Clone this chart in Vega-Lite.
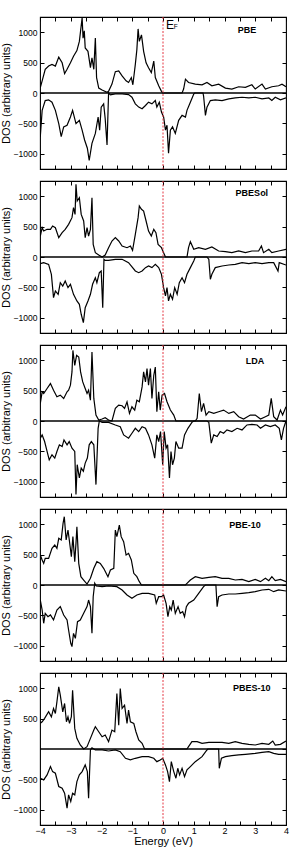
{
"$schema": "https://vega.github.io/schema/vega-lite/v6.json",
"padding": {"left": 0, "top": 15, "right": 5, "bottom": 2},
"spacing": 8,
"config": {
 "view": {"stroke": "black", "strokeWidth": 1.1},
 "font": "Liberation Sans",
 "axis": {"domain": false, "grid": false, "tickColor": "black", "tickSize": -4, "tickWidth": 1, "labelFont": "Liberation Sans", "labelFontSize": 8.5, "labelColor": "black", "labelPadding": 7, "labelFlush": false, "labelOverlap": false, "labelBound": false, "titleFont": "Liberation Sans", "titleFontSize": 11, "titleFontWeight": "normal", "titleColor": "black", "titlePadding": 1.5}
},
"vconcat": [
{
 "width": 246, "height": 152,
 "layer": [
  {"data": {"values": [
{"s":"u","e":-3.99,"d":90},{"s":"u","e":-3.93,"d":200},{"s":"u","e":-3.83,"d":390},{"s":"u","e":-3.72,"d":443},{"s":"u","e":-3.61,"d":470},{"s":"u","e":-3.5,"d":443},{"s":"u","e":-3.39,"d":590},{"s":"u","e":-3.28,"d":497},{"s":"u","e":-3.2,"d":320},{"s":"u","e":-3.12,"d":390},{"s":"u","e":-3.01,"d":497},{"s":"u","e":-2.91,"d":605},{"s":"u","e":-2.8,"d":697},{"s":"u","e":-2.72,"d":849},{"s":"u","e":-2.68,"d":1022},{"s":"u","e":-2.63,"d":1238},{"s":"u","e":-2.6,"d":903},{"s":"u","e":-2.56,"d":1022},{"s":"u","e":-2.53,"d":740},{"s":"u","e":-2.44,"d":686},{"s":"u","e":-2.36,"d":416},{"s":"u","e":-2.31,"d":578},{"s":"u","e":-2.25,"d":390},{"s":"u","e":-2.2,"d":903},{"s":"u","e":-2.16,"d":254},{"s":"u","e":-2.09,"d":81},{"s":"u","e":-1.98,"d":49},{"s":"u","e":-1.82,"d":11},{"s":"u","e":-1.77,"d":27},{"s":"u","e":-1.66,"d":146},{"s":"u","e":-1.55,"d":351},{"s":"u","e":-1.44,"d":362},{"s":"u","e":-1.33,"d":281},{"s":"u","e":-1.2,"d":200},{"s":"u","e":-1.12,"d":173},{"s":"u","e":-1.03,"d":254},{"s":"u","e":-0.98,"d":135},{"s":"u","e":-0.9,"d":470},{"s":"u","e":-0.85,"d":714},{"s":"u","e":-0.81,"d":1054},{"s":"u","e":-0.77,"d":849},{"s":"u","e":-0.7,"d":957},{"s":"u","e":-0.63,"d":686},{"s":"u","e":-0.55,"d":497},{"s":"u","e":-0.47,"d":416},{"s":"u","e":-0.38,"d":335},{"s":"u","e":-0.3,"d":524},{"s":"u","e":-0.25,"d":254},{"s":"u","e":-0.14,"d":119},{"s":"u","e":-0.05,"d":27},{"s":"u","e":-0.01,"d":0},{"s":"u","e":0.62,"d":0},{"s":"u","e":0.67,"d":65},{"s":"u","e":0.73,"d":227},{"s":"u","e":0.83,"d":173},{"s":"u","e":1.05,"d":146},{"s":"u","e":1.27,"d":135},{"s":"u","e":1.43,"d":173},{"s":"u","e":1.59,"d":119},{"s":"u","e":1.81,"d":146},{"s":"u","e":2.03,"d":81},{"s":"u","e":2.24,"d":65},{"s":"u","e":2.46,"d":103},{"s":"u","e":2.68,"d":92},{"s":"u","e":2.89,"d":135},{"s":"u","e":3.0,"d":65},{"s":"u","e":3.22,"d":146},{"s":"u","e":3.33,"d":65},{"s":"u","e":3.54,"d":103},{"s":"u","e":3.76,"d":119},{"s":"u","e":3.87,"d":146},{"s":"u","e":4.0,"d":103},
{"s":"d","e":-3.99,"d":-719},{"s":"d","e":-3.93,"d":-286},{"s":"d","e":-3.83,"d":-124},{"s":"d","e":-3.72,"d":-113},{"s":"d","e":-3.61,"d":-151},{"s":"d","e":-3.5,"d":-286},{"s":"d","e":-3.39,"d":-503},{"s":"d","e":-3.31,"d":-719},{"s":"d","e":-3.23,"d":-557},{"s":"d","e":-3.12,"d":-530},{"s":"d","e":-3.01,"d":-395},{"s":"d","e":-2.94,"d":-286},{"s":"d","e":-2.83,"d":-503},{"s":"d","e":-2.72,"d":-449},{"s":"d","e":-2.63,"d":-611},{"s":"d","e":-2.55,"d":-773},{"s":"d","e":-2.46,"d":-908},{"s":"d","e":-2.4,"d":-1108},{"s":"d","e":-2.31,"d":-827},{"s":"d","e":-2.2,"d":-665},{"s":"d","e":-2.11,"d":-395},{"s":"d","e":-2.06,"d":-611},{"s":"d","e":-2.01,"d":-232},{"s":"d","e":-1.93,"d":-178},{"s":"d","e":-1.88,"d":-422},{"s":"d","e":-1.82,"d":-854},{"s":"d","e":-1.77,"d":0},{"s":"d","e":-1.71,"d":-32},{"s":"d","e":-1.55,"d":-16},{"s":"d","e":-1.33,"d":-16},{"s":"d","e":-1.12,"d":-27},{"s":"d","e":-1.01,"d":-70},{"s":"d","e":-0.9,"d":-178},{"s":"d","e":-0.79,"d":-232},{"s":"d","e":-0.68,"d":-259},{"s":"d","e":-0.57,"d":-205},{"s":"d","e":-0.47,"d":-151},{"s":"d","e":-0.36,"d":-178},{"s":"d","e":-0.25,"d":-124},{"s":"d","e":-0.2,"d":-232},{"s":"d","e":-0.12,"d":-151},{"s":"d","e":-0.05,"d":-313},{"s":"d","e":0.02,"d":-395},{"s":"d","e":0.08,"d":-611},{"s":"d","e":0.13,"d":-530},{"s":"d","e":0.18,"d":-989},{"s":"d","e":0.24,"d":-611},{"s":"d","e":0.31,"d":-557},{"s":"d","e":0.4,"d":-665},{"s":"d","e":0.51,"d":-449},{"s":"d","e":0.62,"d":-368},{"s":"d","e":0.73,"d":-395},{"s":"d","e":0.78,"d":-286},{"s":"d","e":0.89,"d":-151},{"s":"d","e":1.0,"d":-16},{"s":"d","e":1.03,"d":0},{"s":"d","e":1.3,"d":0},{"s":"d","e":1.32,"d":-50},{"s":"d","e":1.38,"d":-368},{"s":"d","e":1.43,"d":-232},{"s":"d","e":1.54,"d":-124},{"s":"d","e":1.7,"d":-113},{"s":"d","e":1.92,"d":-124},{"s":"d","e":2.14,"d":-97},{"s":"d","e":2.35,"d":-81},{"s":"d","e":2.57,"d":-70},{"s":"d","e":2.79,"d":-81},{"s":"d","e":3.0,"d":-70},{"s":"d","e":3.22,"d":-97},{"s":"d","e":3.44,"d":-81},{"s":"d","e":3.54,"d":-124},{"s":"d","e":3.65,"d":-70},{"s":"d","e":3.82,"d":-113},{"s":"d","e":4.0,"d":-81}
  ]},
   "mark": {"type": "line", "color": "black", "strokeWidth": 1.2, "clip": true},
   "encoding": {
    "x": {"field": "e", "type": "quantitative", "scale": {"domain": [-4, 4], "nice": false}, "axis": {"orient": "bottom", "values": [-4,-3.5,-3,-2.5,-2,-1.5,-1,-0.5,0,0.5,1,1.5,2,2.5,3,3.5,4], "labels": false, "title": null}},
    "y": {"field": "d", "type": "quantitative", "scale": {"domain": [-1250, 1250], "nice": false}, "axis": {"orient": "left", "values": [-1000,-500,0,500,1000], "format": "d", "title": "DOS (arbitrary units)"}},
    "detail": {"field": "s"}
   }},
  {"data": {"values": [{}]}, "mark": {"type": "rule", "color": "black", "strokeWidth": 1.3},
   "encoding": {"y": {"datum": 0, "axis": {"orient": "right", "values": [-1000,-500,0,500,1000], "labels": false, "title": null}}}},
  {"data": {"values": [{}]}, "mark": {"type": "rule", "color": "#e53945", "strokeWidth": 1, "strokeDash": [2, 1.5]},
   "encoding": {"x": {"datum": 0, "axis": {"orient": "top", "values": [-4,-3.5,-3,-2.5,-2,-1.5,-1,-0.5,0,0.5,1,1.5,2,2.5,3,3.5,4], "labels": false, "title": null}}}},
  {"data": {"values": [{"label": "PBE"}]}, "mark": {"type": "text", "fontWeight": "bold", "fontSize": 9, "align": "center", "baseline": "alphabetic", "color": "black"},
   "encoding": {"x": {"datum": 2.73, "axis": null}, "y": {"datum": 990, "axis": null}, "text": {"field": "label"}}},
  {"data": {"values": [{"label": "E"}]}, "mark": {"type": "text", "fontSize": 12, "align": "left", "baseline": "alphabetic", "color": "black"},
   "encoding": {"x": {"datum": 0.1, "axis": null}, "y": {"datum": 1050, "axis": null}, "text": {"field": "label"}}},
  {"data": {"values": [{"label": "F"}]}, "mark": {"type": "text", "fontSize": 6.5, "align": "left", "baseline": "alphabetic", "color": "black"},
   "encoding": {"x": {"datum": 0.35, "axis": null}, "y": {"datum": 1050, "axis": null}, "text": {"field": "label"}}}
 ]
},
{
 "width": 246, "height": 152,
 "layer": [
  {"data": {"values": [
{"s":"u","e":-3.99,"d":345},{"s":"u","e":-3.93,"d":482},{"s":"u","e":-3.88,"d":427},{"s":"u","e":-3.77,"d":455},{"s":"u","e":-3.66,"d":455},{"s":"u","e":-3.59,"d":510},{"s":"u","e":-3.5,"d":482},{"s":"u","e":-3.39,"d":318},{"s":"u","e":-3.28,"d":400},{"s":"u","e":-3.18,"d":455},{"s":"u","e":-3.07,"d":537},{"s":"u","e":-2.96,"d":647},{"s":"u","e":-2.91,"d":811},{"s":"u","e":-2.86,"d":701},{"s":"u","e":-2.83,"d":1195},{"s":"u","e":-2.79,"d":921},{"s":"u","e":-2.72,"d":975},{"s":"u","e":-2.66,"d":701},{"s":"u","e":-2.58,"d":592},{"s":"u","e":-2.53,"d":318},{"s":"u","e":-2.47,"d":482},{"s":"u","e":-2.42,"d":345},{"s":"u","e":-2.36,"d":455},{"s":"u","e":-2.31,"d":975},{"s":"u","e":-2.27,"d":208},{"s":"u","e":-2.2,"d":71},{"s":"u","e":-2.09,"d":33},{"s":"u","e":-1.98,"d":0},{"s":"u","e":-1.88,"d":33},{"s":"u","e":-1.77,"d":153},{"s":"u","e":-1.66,"d":263},{"s":"u","e":-1.55,"d":318},{"s":"u","e":-1.44,"d":263},{"s":"u","e":-1.33,"d":181},{"s":"u","e":-1.17,"d":153},{"s":"u","e":-1.06,"d":181},{"s":"u","e":-0.99,"d":110},{"s":"u","e":-0.9,"d":373},{"s":"u","e":-0.81,"d":647},{"s":"u","e":-0.77,"d":838},{"s":"u","e":-0.7,"d":784},{"s":"u","e":-0.63,"d":756},{"s":"u","e":-0.55,"d":592},{"s":"u","e":-0.47,"d":427},{"s":"u","e":-0.38,"d":345},{"s":"u","e":-0.3,"d":455},{"s":"u","e":-0.23,"d":400},{"s":"u","e":-0.16,"d":208},{"s":"u","e":-0.05,"d":153},{"s":"u","e":0.02,"d":71},{"s":"u","e":0.08,"d":0},{"s":"u","e":0.78,"d":0},{"s":"u","e":0.83,"d":153},{"s":"u","e":0.89,"d":252},{"s":"u","e":1.0,"d":126},{"s":"u","e":1.16,"d":153},{"s":"u","e":1.38,"d":126},{"s":"u","e":1.59,"d":164},{"s":"u","e":1.81,"d":99},{"s":"u","e":2.03,"d":88},{"s":"u","e":2.24,"d":71},{"s":"u","e":2.46,"d":99},{"s":"u","e":2.68,"d":71},{"s":"u","e":2.89,"d":99},{"s":"u","e":3.11,"d":99},{"s":"u","e":3.2,"d":181},{"s":"u","e":3.27,"d":71},{"s":"u","e":3.44,"d":126},{"s":"u","e":3.54,"d":71},{"s":"u","e":3.76,"d":99},{"s":"u","e":4.0,"d":126},
{"s":"d","e":-3.99,"d":-110},{"s":"d","e":-3.88,"d":-93},{"s":"d","e":-3.72,"d":-121},{"s":"d","e":-3.63,"d":-285},{"s":"d","e":-3.56,"d":-668},{"s":"d","e":-3.5,"d":-559},{"s":"d","e":-3.41,"d":-614},{"s":"d","e":-3.34,"d":-422},{"s":"d","e":-3.26,"d":-477},{"s":"d","e":-3.18,"d":-395},{"s":"d","e":-3.09,"d":-504},{"s":"d","e":-3.01,"d":-449},{"s":"d","e":-2.91,"d":-614},{"s":"d","e":-2.8,"d":-723},{"s":"d","e":-2.72,"d":-778},{"s":"d","e":-2.66,"d":-942},{"s":"d","e":-2.59,"d":-1079},{"s":"d","e":-2.53,"d":-833},{"s":"d","e":-2.44,"d":-723},{"s":"d","e":-2.36,"d":-614},{"s":"d","e":-2.29,"d":-449},{"s":"d","e":-2.2,"d":-340},{"s":"d","e":-2.15,"d":-422},{"s":"d","e":-2.07,"d":-258},{"s":"d","e":-2.01,"d":-230},{"s":"d","e":-1.96,"d":-833},{"s":"d","e":-1.92,"d":-38},{"s":"d","e":-1.88,"d":-55},{"s":"d","e":-1.77,"d":-55},{"s":"d","e":-1.55,"d":-38},{"s":"d","e":-1.33,"d":-38},{"s":"d","e":-1.12,"d":-93},{"s":"d","e":-0.9,"d":-230},{"s":"d","e":-0.79,"d":-258},{"s":"d","e":-0.68,"d":-230},{"s":"d","e":-0.57,"d":-175},{"s":"d","e":-0.47,"d":-148},{"s":"d","e":-0.36,"d":-175},{"s":"d","e":-0.25,"d":-121},{"s":"d","e":-0.14,"d":-175},{"s":"d","e":-0.05,"d":-285},{"s":"d","e":0.02,"d":-504},{"s":"d","e":0.08,"d":-641},{"s":"d","e":0.13,"d":-504},{"s":"d","e":0.18,"d":-723},{"s":"d","e":0.24,"d":-614},{"s":"d","e":0.31,"d":-696},{"s":"d","e":0.38,"d":-504},{"s":"d","e":0.46,"d":-614},{"s":"d","e":0.53,"d":-422},{"s":"d","e":0.62,"d":-340},{"s":"d","e":0.7,"d":-422},{"s":"d","e":0.78,"d":-285},{"s":"d","e":0.89,"d":-175},{"s":"d","e":1.0,"d":-66},{"s":"d","e":1.05,"d":0},{"s":"d","e":1.43,"d":0},{"s":"d","e":1.49,"d":-38},{"s":"d","e":1.54,"d":-367},{"s":"d","e":1.59,"d":-285},{"s":"d","e":1.7,"d":-175},{"s":"d","e":1.92,"d":-148},{"s":"d","e":2.14,"d":-132},{"s":"d","e":2.35,"d":-121},{"s":"d","e":2.57,"d":-93},{"s":"d","e":2.79,"d":-110},{"s":"d","e":3.0,"d":-93},{"s":"d","e":3.22,"d":-110},{"s":"d","e":3.44,"d":-93},{"s":"d","e":3.6,"d":-93},{"s":"d","e":3.74,"d":-230},{"s":"d","e":3.78,"d":-93},{"s":"d","e":4.0,"d":-132}
  ]},
   "mark": {"type": "line", "color": "black", "strokeWidth": 1.2, "clip": true},
   "encoding": {
    "x": {"field": "e", "type": "quantitative", "scale": {"domain": [-4, 4], "nice": false}, "axis": {"orient": "bottom", "values": [-4,-3.5,-3,-2.5,-2,-1.5,-1,-0.5,0,0.5,1,1.5,2,2.5,3,3.5,4], "labels": false, "title": null}},
    "y": {"field": "d", "type": "quantitative", "scale": {"domain": [-1250, 1250], "nice": false}, "axis": {"orient": "left", "values": [-1000,-500,0,500,1000], "format": "d", "title": "DOS (arbitrary units)"}},
    "detail": {"field": "s"}
   }},
  {"data": {"values": [{}]}, "mark": {"type": "rule", "color": "black", "strokeWidth": 1.3},
   "encoding": {"y": {"datum": 0, "axis": {"orient": "right", "values": [-1000,-500,0,500,1000], "labels": false, "title": null}}}},
  {"data": {"values": [{}]}, "mark": {"type": "rule", "color": "#e53945", "strokeWidth": 1, "strokeDash": [2, 1.5]},
   "encoding": {"x": {"datum": 0, "axis": {"orient": "top", "values": [-4,-3.5,-3,-2.5,-2,-1.5,-1,-0.5,0,0.5,1,1.5,2,2.5,3,3.5,4], "labels": false, "title": null}}}},
  {"data": {"values": [{"label": "PBESol"}]}, "mark": {"type": "text", "fontWeight": "bold", "fontSize": 9, "align": "center", "baseline": "alphabetic", "color": "black"},
   "encoding": {"x": {"datum": 2.89, "axis": null}, "y": {"datum": 1010, "axis": null}, "text": {"field": "label"}}}
 ]
},
{
 "width": 246, "height": 152,
 "layer": [
  {"data": {"values": [
{"s":"u","e":-3.99,"d":289},{"s":"u","e":-3.93,"d":480},{"s":"u","e":-3.88,"d":452},{"s":"u","e":-3.77,"d":534},{"s":"u","e":-3.66,"d":616},{"s":"u","e":-3.56,"d":507},{"s":"u","e":-3.45,"d":398},{"s":"u","e":-3.34,"d":425},{"s":"u","e":-3.23,"d":371},{"s":"u","e":-3.12,"d":480},{"s":"u","e":-3.07,"d":507},{"s":"u","e":-3.01,"d":589},{"s":"u","e":-2.96,"d":807},{"s":"u","e":-2.93,"d":1161},{"s":"u","e":-2.87,"d":916},{"s":"u","e":-2.81,"d":1079},{"s":"u","e":-2.74,"d":1052},{"s":"u","e":-2.68,"d":807},{"s":"u","e":-2.61,"d":643},{"s":"u","e":-2.53,"d":534},{"s":"u","e":-2.47,"d":452},{"s":"u","e":-2.42,"d":507},{"s":"u","e":-2.36,"d":343},{"s":"u","e":-2.31,"d":1134},{"s":"u","e":-2.25,"d":371},{"s":"u","e":-2.18,"d":98},{"s":"u","e":-2.09,"d":16},{"s":"u","e":-1.98,"d":33},{"s":"u","e":-1.88,"d":54},{"s":"u","e":-1.77,"d":16},{"s":"u","e":-1.66,"d":0},{"s":"u","e":-1.55,"d":207},{"s":"u","e":-1.44,"d":262},{"s":"u","e":-1.33,"d":251},{"s":"u","e":-1.25,"d":207},{"s":"u","e":-1.17,"d":316},{"s":"u","e":-1.09,"d":125},{"s":"u","e":-1.01,"d":234},{"s":"u","e":-0.92,"d":180},{"s":"u","e":-0.85,"d":343},{"s":"u","e":-0.77,"d":316},{"s":"u","e":-0.68,"d":561},{"s":"u","e":-0.63,"d":807},{"s":"u","e":-0.57,"d":643},{"s":"u","e":-0.52,"d":861},{"s":"u","e":-0.47,"d":589},{"s":"u","e":-0.41,"d":861},{"s":"u","e":-0.36,"d":371},{"s":"u","e":-0.3,"d":752},{"s":"u","e":-0.25,"d":888},{"s":"u","e":-0.2,"d":153},{"s":"u","e":-0.14,"d":480},{"s":"u","e":-0.09,"d":180},{"s":"u","e":-0.03,"d":425},{"s":"u","e":0.05,"d":452},{"s":"u","e":0.13,"d":316},{"s":"u","e":0.24,"d":180},{"s":"u","e":0.35,"d":98},{"s":"u","e":0.42,"d":0},{"s":"u","e":1.05,"d":0},{"s":"u","e":1.11,"d":44},{"s":"u","e":1.18,"d":452},{"s":"u","e":1.25,"d":153},{"s":"u","e":1.32,"d":289},{"s":"u","e":1.4,"d":98},{"s":"u","e":1.49,"d":153},{"s":"u","e":1.65,"d":125},{"s":"u","e":1.81,"d":153},{"s":"u","e":1.97,"d":180},{"s":"u","e":2.14,"d":125},{"s":"u","e":2.3,"d":153},{"s":"u","e":2.46,"d":71},{"s":"u","e":2.62,"d":33},{"s":"u","e":2.84,"d":98},{"s":"u","e":3.0,"d":98},{"s":"u","e":3.17,"d":33},{"s":"u","e":3.33,"d":71},{"s":"u","e":3.44,"d":98},{"s":"u","e":3.52,"d":371},{"s":"u","e":3.6,"d":71},{"s":"u","e":3.71,"d":16},{"s":"u","e":3.82,"d":180},{"s":"u","e":3.89,"d":98},{"s":"u","e":4.0,"d":234},
{"s":"d","e":-3.99,"d":-283},{"s":"d","e":-3.93,"d":-229},{"s":"d","e":-3.85,"d":-338},{"s":"d","e":-3.77,"d":-501},{"s":"d","e":-3.7,"d":-638},{"s":"d","e":-3.61,"d":-556},{"s":"d","e":-3.52,"d":-610},{"s":"d","e":-3.45,"d":-501},{"s":"d","e":-3.37,"d":-392},{"s":"d","e":-3.28,"d":-420},{"s":"d","e":-3.22,"d":-311},{"s":"d","e":-3.12,"d":-392},{"s":"d","e":-3.05,"d":-338},{"s":"d","e":-2.96,"d":-447},{"s":"d","e":-2.87,"d":-501},{"s":"d","e":-2.83,"d":-1210},{"s":"d","e":-2.79,"d":-719},{"s":"d","e":-2.72,"d":-937},{"s":"d","e":-2.66,"d":-774},{"s":"d","e":-2.59,"d":-828},{"s":"d","e":-2.53,"d":-692},{"s":"d","e":-2.46,"d":-610},{"s":"d","e":-2.4,"d":-392},{"s":"d","e":-2.33,"d":-338},{"s":"d","e":-2.25,"d":-392},{"s":"d","e":-2.18,"d":-1046},{"s":"d","e":-2.11,"d":-120},{"s":"d","e":-2.07,"d":0},{"s":"d","e":-1.98,"d":-22},{"s":"d","e":-1.77,"d":-22},{"s":"d","e":-1.55,"d":-65},{"s":"d","e":-1.39,"d":-93},{"s":"d","e":-1.28,"d":-229},{"s":"d","e":-1.12,"d":-283},{"s":"d","e":-1.01,"d":-202},{"s":"d","e":-0.9,"d":-120},{"s":"d","e":-0.79,"d":-174},{"s":"d","e":-0.68,"d":-93},{"s":"d","e":-0.57,"d":-120},{"s":"d","e":-0.47,"d":-229},{"s":"d","e":-0.36,"d":-392},{"s":"d","e":-0.27,"d":-610},{"s":"d","e":-0.2,"d":-229},{"s":"d","e":-0.14,"d":-338},{"s":"d","e":-0.08,"d":-174},{"s":"d","e":-0.01,"d":-719},{"s":"d","e":0.04,"d":-174},{"s":"d","e":0.1,"d":-447},{"s":"d","e":0.15,"d":-392},{"s":"d","e":0.21,"d":-937},{"s":"d","e":0.26,"d":-501},{"s":"d","e":0.31,"d":-719},{"s":"d","e":0.37,"d":-610},{"s":"d","e":0.42,"d":-338},{"s":"d","e":0.51,"d":-447},{"s":"d","e":0.62,"d":-447},{"s":"d","e":0.7,"d":-229},{"s":"d","e":0.81,"d":-120},{"s":"d","e":0.94,"d":-22},{"s":"d","e":1.0,"d":0},{"s":"d","e":1.43,"d":0},{"s":"d","e":1.49,"d":-22},{"s":"d","e":1.57,"d":-365},{"s":"d","e":1.65,"d":-229},{"s":"d","e":1.76,"d":-256},{"s":"d","e":1.86,"d":-174},{"s":"d","e":1.97,"d":-202},{"s":"d","e":2.08,"d":-147},{"s":"d","e":2.24,"d":-174},{"s":"d","e":2.41,"d":-120},{"s":"d","e":2.57,"d":-147},{"s":"d","e":2.73,"d":-65},{"s":"d","e":2.89,"d":-54},{"s":"d","e":3.06,"d":-65},{"s":"d","e":3.17,"d":-120},{"s":"d","e":3.33,"d":-65},{"s":"d","e":3.49,"d":-93},{"s":"d","e":3.65,"d":-65},{"s":"d","e":3.78,"d":-120},{"s":"d","e":3.85,"d":-311},{"s":"d","e":3.92,"d":-120},{"s":"d","e":4.0,"d":0}
  ]},
   "mark": {"type": "line", "color": "black", "strokeWidth": 1.2, "clip": true},
   "encoding": {
    "x": {"field": "e", "type": "quantitative", "scale": {"domain": [-4, 4], "nice": false}, "axis": {"orient": "bottom", "values": [-4,-3.5,-3,-2.5,-2,-1.5,-1,-0.5,0,0.5,1,1.5,2,2.5,3,3.5,4], "labels": false, "title": null}},
    "y": {"field": "d", "type": "quantitative", "scale": {"domain": [-1250, 1250], "nice": false}, "axis": {"orient": "left", "values": [-1000,-500,0,500,1000], "format": "d", "title": "DOS (arbitrary units)"}},
    "detail": {"field": "s"}
   }},
  {"data": {"values": [{}]}, "mark": {"type": "rule", "color": "black", "strokeWidth": 1.3},
   "encoding": {"y": {"datum": 0, "axis": {"orient": "right", "values": [-1000,-500,0,500,1000], "labels": false, "title": null}}}},
  {"data": {"values": [{}]}, "mark": {"type": "rule", "color": "#e53945", "strokeWidth": 1, "strokeDash": [2, 1.5]},
   "encoding": {"x": {"datum": 0, "axis": {"orient": "top", "values": [-4,-3.5,-3,-2.5,-2,-1.5,-1,-0.5,0,0.5,1,1.5,2,2.5,3,3.5,4], "labels": false, "title": null}}}},
  {"data": {"values": [{"label": "LDA"}]}, "mark": {"type": "text", "fontWeight": "bold", "fontSize": 9, "align": "center", "baseline": "alphabetic", "color": "black"},
   "encoding": {"x": {"datum": 2.99, "axis": null}, "y": {"datum": 935, "axis": null}, "text": {"field": "label"}}}
 ]
},
{
 "width": 246, "height": 152,
 "layer": [
  {"data": {"values": [
{"s":"u","e":-3.99,"d":493},{"s":"u","e":-3.93,"d":411},{"s":"u","e":-3.88,"d":356},{"s":"u","e":-3.83,"d":438},{"s":"u","e":-3.72,"d":438},{"s":"u","e":-3.61,"d":603},{"s":"u","e":-3.52,"d":658},{"s":"u","e":-3.45,"d":603},{"s":"u","e":-3.39,"d":767},{"s":"u","e":-3.31,"d":740},{"s":"u","e":-3.25,"d":1014},{"s":"u","e":-3.21,"d":1123},{"s":"u","e":-3.15,"d":740},{"s":"u","e":-3.09,"d":904},{"s":"u","e":-3.04,"d":712},{"s":"u","e":-2.98,"d":466},{"s":"u","e":-2.93,"d":795},{"s":"u","e":-2.87,"d":384},{"s":"u","e":-2.83,"d":685},{"s":"u","e":-2.8,"d":959},{"s":"u","e":-2.74,"d":356},{"s":"u","e":-2.67,"d":137},{"s":"u","e":-2.58,"d":82},{"s":"u","e":-2.47,"d":16},{"s":"u","e":-2.36,"d":110},{"s":"u","e":-2.25,"d":274},{"s":"u","e":-2.15,"d":384},{"s":"u","e":-2.04,"d":356},{"s":"u","e":-1.93,"d":274},{"s":"u","e":-1.79,"d":137},{"s":"u","e":-1.71,"d":247},{"s":"u","e":-1.6,"d":274},{"s":"u","e":-1.55,"d":904},{"s":"u","e":-1.5,"d":795},{"s":"u","e":-1.42,"d":986},{"s":"u","e":-1.36,"d":795},{"s":"u","e":-1.28,"d":712},{"s":"u","e":-1.2,"d":493},{"s":"u","e":-1.12,"d":521},{"s":"u","e":-1.03,"d":411},{"s":"u","e":-0.95,"d":192},{"s":"u","e":-0.85,"d":137},{"s":"u","e":-0.77,"d":55},{"s":"u","e":-0.7,"d":0},{"s":"u","e":0.73,"d":0},{"s":"u","e":0.78,"d":27},{"s":"u","e":0.89,"d":82},{"s":"u","e":1.05,"d":137},{"s":"u","e":1.27,"d":110},{"s":"u","e":1.49,"d":126},{"s":"u","e":1.7,"d":137},{"s":"u","e":1.92,"d":110},{"s":"u","e":2.14,"d":110},{"s":"u","e":2.35,"d":82},{"s":"u","e":2.57,"d":93},{"s":"u","e":2.79,"d":55},{"s":"u","e":3.0,"d":93},{"s":"u","e":3.17,"d":55},{"s":"u","e":3.33,"d":110},{"s":"u","e":3.44,"d":71},{"s":"u","e":3.54,"d":137},{"s":"u","e":3.65,"d":71},{"s":"u","e":3.82,"d":93},{"s":"u","e":4.0,"d":55},
{"s":"d","e":-3.99,"d":-247},{"s":"d","e":-3.93,"d":-411},{"s":"d","e":-3.88,"d":-630},{"s":"d","e":-3.83,"d":-466},{"s":"d","e":-3.74,"d":-521},{"s":"d","e":-3.66,"d":-493},{"s":"d","e":-3.56,"d":-575},{"s":"d","e":-3.45,"d":-411},{"s":"d","e":-3.34,"d":-356},{"s":"d","e":-3.23,"d":-493},{"s":"d","e":-3.12,"d":-575},{"s":"d","e":-3.07,"d":-740},{"s":"d","e":-3.0,"d":-959},{"s":"d","e":-2.96,"d":-1014},{"s":"d","e":-2.91,"d":-795},{"s":"d","e":-2.85,"d":-877},{"s":"d","e":-2.78,"d":-603},{"s":"d","e":-2.69,"d":-575},{"s":"d","e":-2.58,"d":-466},{"s":"d","e":-2.47,"d":-356},{"s":"d","e":-2.42,"d":-247},{"s":"d","e":-2.36,"d":-356},{"s":"d","e":-2.31,"d":-795},{"s":"d","e":-2.27,"d":-192},{"s":"d","e":-2.22,"d":30},{"s":"d","e":-2.17,"d":-16},{"s":"d","e":-1.98,"d":-27},{"s":"d","e":-1.77,"d":-16},{"s":"d","e":-1.5,"d":-27},{"s":"d","e":-1.33,"d":-82},{"s":"d","e":-1.17,"d":-164},{"s":"d","e":-1.01,"d":-219},{"s":"d","e":-0.85,"d":-164},{"s":"d","e":-0.68,"d":-137},{"s":"d","e":-0.47,"d":-137},{"s":"d","e":-0.27,"d":-164},{"s":"d","e":-0.22,"d":-301},{"s":"d","e":-0.14,"d":-192},{"s":"d","e":-0.05,"d":-192},{"s":"d","e":0.02,"d":-164},{"s":"d","e":0.1,"d":-301},{"s":"d","e":0.16,"d":-521},{"s":"d","e":0.22,"d":-356},{"s":"d","e":0.27,"d":-411},{"s":"d","e":0.33,"d":-247},{"s":"d","e":0.4,"d":-466},{"s":"d","e":0.49,"d":-356},{"s":"d","e":0.56,"d":-466},{"s":"d","e":0.64,"d":-438},{"s":"d","e":0.7,"d":-521},{"s":"d","e":0.76,"d":-356},{"s":"d","e":0.83,"d":-301},{"s":"d","e":1.0,"d":-247},{"s":"d","e":1.16,"d":-137},{"s":"d","e":1.32,"d":-27},{"s":"d","e":1.38,"d":0},{"s":"d","e":1.72,"d":0},{"s":"d","e":1.76,"d":-356},{"s":"d","e":1.81,"d":-192},{"s":"d","e":1.92,"d":-164},{"s":"d","e":2.14,"d":-148},{"s":"d","e":2.35,"d":-148},{"s":"d","e":2.57,"d":-137},{"s":"d","e":2.79,"d":-126},{"s":"d","e":3.0,"d":-110},{"s":"d","e":3.22,"d":-82},{"s":"d","e":3.44,"d":-71},{"s":"d","e":3.6,"d":-110},{"s":"d","e":3.76,"d":-82},{"s":"d","e":4.0,"d":-99}
  ]},
   "mark": {"type": "line", "color": "black", "strokeWidth": 1.2, "clip": true},
   "encoding": {
    "x": {"field": "e", "type": "quantitative", "scale": {"domain": [-4, 4], "nice": false}, "axis": {"orient": "bottom", "values": [-4,-3.5,-3,-2.5,-2,-1.5,-1,-0.5,0,0.5,1,1.5,2,2.5,3,3.5,4], "labels": false, "title": null}},
    "y": {"field": "d", "type": "quantitative", "scale": {"domain": [-1250, 1250], "nice": false}, "axis": {"orient": "left", "values": [-1000,-500,0,500,1000], "format": "d", "title": "DOS (arbitrary units)"}},
    "detail": {"field": "s"}
   }},
  {"data": {"values": [{}]}, "mark": {"type": "rule", "color": "black", "strokeWidth": 1.3},
   "encoding": {"y": {"datum": 0, "axis": {"orient": "right", "values": [-1000,-500,0,500,1000], "labels": false, "title": null}}}},
  {"data": {"values": [{}]}, "mark": {"type": "rule", "color": "#e53945", "strokeWidth": 1, "strokeDash": [2, 1.5]},
   "encoding": {"x": {"datum": 0, "axis": {"orient": "top", "values": [-4,-3.5,-3,-2.5,-2,-1.5,-1,-0.5,0,0.5,1,1.5,2,2.5,3,3.5,4], "labels": false, "title": null}}}},
  {"data": {"values": [{"label": "PBE-10"}]}, "mark": {"type": "text", "fontWeight": "bold", "fontSize": 9, "align": "center", "baseline": "alphabetic", "color": "black"},
   "encoding": {"x": {"datum": 2.67, "axis": null}, "y": {"datum": 945, "axis": null}, "text": {"field": "label"}}}
 ]
},
{
 "width": 246, "height": 152,
 "layer": [
  {"data": {"values": [
{"s":"u","e":-3.99,"d":421},{"s":"u","e":-3.93,"d":448},{"s":"u","e":-3.85,"d":503},{"s":"u","e":-3.72,"d":612},{"s":"u","e":-3.63,"d":530},{"s":"u","e":-3.56,"d":667},{"s":"u","e":-3.5,"d":585},{"s":"u","e":-3.45,"d":776},{"s":"u","e":-3.39,"d":1022},{"s":"u","e":-3.34,"d":885},{"s":"u","e":-3.26,"d":612},{"s":"u","e":-3.2,"d":749},{"s":"u","e":-3.14,"d":448},{"s":"u","e":-3.09,"d":530},{"s":"u","e":-3.04,"d":421},{"s":"u","e":-2.98,"d":530},{"s":"u","e":-2.94,"d":967},{"s":"u","e":-2.87,"d":339},{"s":"u","e":-2.8,"d":175},{"s":"u","e":-2.69,"d":66},{"s":"u","e":-2.58,"d":0},{"s":"u","e":-2.47,"d":38},{"s":"u","e":-2.36,"d":175},{"s":"u","e":-2.25,"d":311},{"s":"u","e":-2.2,"d":366},{"s":"u","e":-2.09,"d":284},{"s":"u","e":-1.98,"d":202},{"s":"u","e":-1.88,"d":230},{"s":"u","e":-1.77,"d":120},{"s":"u","e":-1.66,"d":311},{"s":"u","e":-1.57,"d":284},{"s":"u","e":-1.5,"d":913},{"s":"u","e":-1.44,"d":393},{"s":"u","e":-1.39,"d":995},{"s":"u","e":-1.33,"d":667},{"s":"u","e":-1.25,"d":721},{"s":"u","e":-1.17,"d":421},{"s":"u","e":-1.12,"d":639},{"s":"u","e":-1.06,"d":448},{"s":"u","e":-0.95,"d":421},{"s":"u","e":-0.88,"d":284},{"s":"u","e":-0.79,"d":148},{"s":"u","e":-0.68,"d":93},{"s":"u","e":-0.6,"d":0},{"s":"u","e":0.78,"d":0},{"s":"u","e":0.83,"d":38},{"s":"u","e":0.94,"d":120},{"s":"u","e":1.11,"d":120},{"s":"u","e":1.27,"d":93},{"s":"u","e":1.49,"d":109},{"s":"u","e":1.7,"d":109},{"s":"u","e":1.92,"d":109},{"s":"u","e":2.14,"d":93},{"s":"u","e":2.35,"d":120},{"s":"u","e":2.57,"d":93},{"s":"u","e":2.79,"d":77},{"s":"u","e":3.0,"d":66},{"s":"u","e":3.22,"d":93},{"s":"u","e":3.44,"d":77},{"s":"u","e":3.57,"d":131},{"s":"u","e":3.65,"d":66},{"s":"u","e":3.82,"d":77},{"s":"u","e":4.0,"d":131},
{"s":"d","e":-3.99,"d":-481},{"s":"d","e":-3.88,"d":-508},{"s":"d","e":-3.77,"d":-426},{"s":"d","e":-3.66,"d":-290},{"s":"d","e":-3.59,"d":-372},{"s":"d","e":-3.5,"d":-399},{"s":"d","e":-3.39,"d":-617},{"s":"d","e":-3.28,"d":-645},{"s":"d","e":-3.2,"d":-727},{"s":"d","e":-3.12,"d":-973},{"s":"d","e":-3.07,"d":-754},{"s":"d","e":-3.0,"d":-863},{"s":"d","e":-2.94,"d":-727},{"s":"d","e":-2.87,"d":-754},{"s":"d","e":-2.8,"d":-536},{"s":"d","e":-2.72,"d":-426},{"s":"d","e":-2.63,"d":-372},{"s":"d","e":-2.53,"d":-262},{"s":"d","e":-2.46,"d":-372},{"s":"d","e":-2.42,"d":-809},{"s":"d","e":-2.36,"d":-16},{"s":"d","e":-2.31,"d":20},{"s":"d","e":-2.2,"d":-16},{"s":"d","e":-1.98,"d":-16},{"s":"d","e":-1.77,"d":-33},{"s":"d","e":-1.55,"d":-16},{"s":"d","e":-1.39,"d":-44},{"s":"d","e":-1.22,"d":-153},{"s":"d","e":-1.06,"d":-180},{"s":"d","e":-0.9,"d":-153},{"s":"d","e":-0.68,"d":-126},{"s":"d","e":-0.47,"d":-126},{"s":"d","e":-0.3,"d":-153},{"s":"d","e":-0.2,"d":-208},{"s":"d","e":-0.09,"d":-180},{"s":"d","e":-0.01,"d":-153},{"s":"d","e":0.08,"d":-262},{"s":"d","e":0.15,"d":-372},{"s":"d","e":0.21,"d":-536},{"s":"d","e":0.27,"d":-208},{"s":"d","e":0.35,"d":-372},{"s":"d","e":0.42,"d":-481},{"s":"d","e":0.48,"d":-317},{"s":"d","e":0.54,"d":-426},{"s":"d","e":0.62,"d":-317},{"s":"d","e":0.7,"d":-454},{"s":"d","e":0.78,"d":-344},{"s":"d","e":0.89,"d":-290},{"s":"d","e":1.05,"d":-208},{"s":"d","e":1.27,"d":-126},{"s":"d","e":1.43,"d":-16},{"s":"d","e":1.46,"d":0},{"s":"d","e":1.81,"d":0},{"s":"d","e":1.83,"d":-317},{"s":"d","e":1.9,"d":-153},{"s":"d","e":2.03,"d":-126},{"s":"d","e":2.24,"d":-109},{"s":"d","e":2.46,"d":-98},{"s":"d","e":2.68,"d":-87},{"s":"d","e":3.0,"d":-71},{"s":"d","e":3.22,"d":-55},{"s":"d","e":3.44,"d":-44},{"s":"d","e":3.6,"d":-71},{"s":"d","e":3.76,"d":-87},{"s":"d","e":4.0,"d":-87}
  ]},
   "mark": {"type": "line", "color": "black", "strokeWidth": 1.2, "clip": true},
   "encoding": {
    "x": {"field": "e", "type": "quantitative", "scale": {"domain": [-4, 4], "nice": false}, "axis": {"orient": "bottom", "values": [-4,-3.5,-3,-2.5,-2,-1.5,-1,-0.5,0,0.5,1,1.5,2,2.5,3,3.5,4], "labelExpr": "datum.value % 1 == 0 ? format(datum.value, 'd') : ''", "labelFontSize": 9, "labelPadding": 5.5, "title": "Energy (eV)", "titlePadding": 0}},
    "y": {"field": "d", "type": "quantitative", "scale": {"domain": [-1250, 1250], "nice": false}, "axis": {"orient": "left", "values": [-1000,-500,500,1000], "format": "d", "title": "DOS (arbitrary units)"}},
    "detail": {"field": "s"}
   }},
  {"data": {"values": [{}]}, "mark": {"type": "rule", "color": "black", "strokeWidth": 1.3},
   "encoding": {"y": {"datum": 0, "axis": {"orient": "right", "values": [-1000,-500,0,500,1000], "labels": false, "title": null}}}},
  {"data": {"values": [{}]}, "mark": {"type": "rule", "color": "#e53945", "strokeWidth": 1, "strokeDash": [2, 1.5]},
   "encoding": {"x": {"datum": 0, "axis": {"orient": "top", "values": [-4,-3.5,-3,-2.5,-2,-1.5,-1,-0.5,0,0.5,1,1.5,2,2.5,3,3.5,4], "labels": false, "title": null}}}},
  {"data": {"values": [{"label": "PBES-10"}]}, "mark": {"type": "text", "fontWeight": "bold", "fontSize": 9, "align": "center", "baseline": "alphabetic", "color": "black"},
   "encoding": {"x": {"datum": 2.89, "axis": null}, "y": {"datum": 950, "axis": null}, "text": {"field": "label"}}}
 ]
}
]
}
